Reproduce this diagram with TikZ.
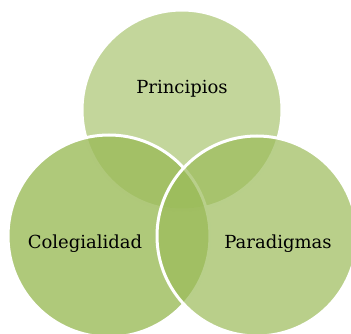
\documentclass[tikz,border=0pt]{standalone}
\usepackage{fontspec}
\setmainfont{DejaVu Serif}
\usepackage{xcolor}
\definecolor{olivo}{RGB}{155,187,89}
\tikzset{
	venn/.style = {circle, draw=white, line width=3pt, fill=olivo, minimum size=200pt, inner sep=0pt},
	etiqueta/.style = {font=\fontsize{18}{21}\selectfont, text=black}
}

\begin{document}
\begin{tikzpicture}[x=1pt, y=-1pt]
	\useasboundingbox (0,0) rectangle (351,334);
	\begin{scope}
	\clip (0,0) rectangle (351,334);
	% circulos
	\node[venn, fill opacity=0.6] (principios) at (182,110) {};
	\node[venn, fill opacity=0.8, minimum size=202pt] (colegialidad) at (109,236) {};
	\node[venn, fill opacity=0.7] (paradigmas) at (257,236) {};
	\end{scope}
	% textos
	\node[etiqueta] (tprincipios) at (182,89) {Principios};
	\node[etiqueta] (tcolegialidad) at (85,244) {Colegialidad};
	\node[etiqueta] (tparadigmas) at (278,244) {Paradigmas};
\end{tikzpicture}
\end{document}
